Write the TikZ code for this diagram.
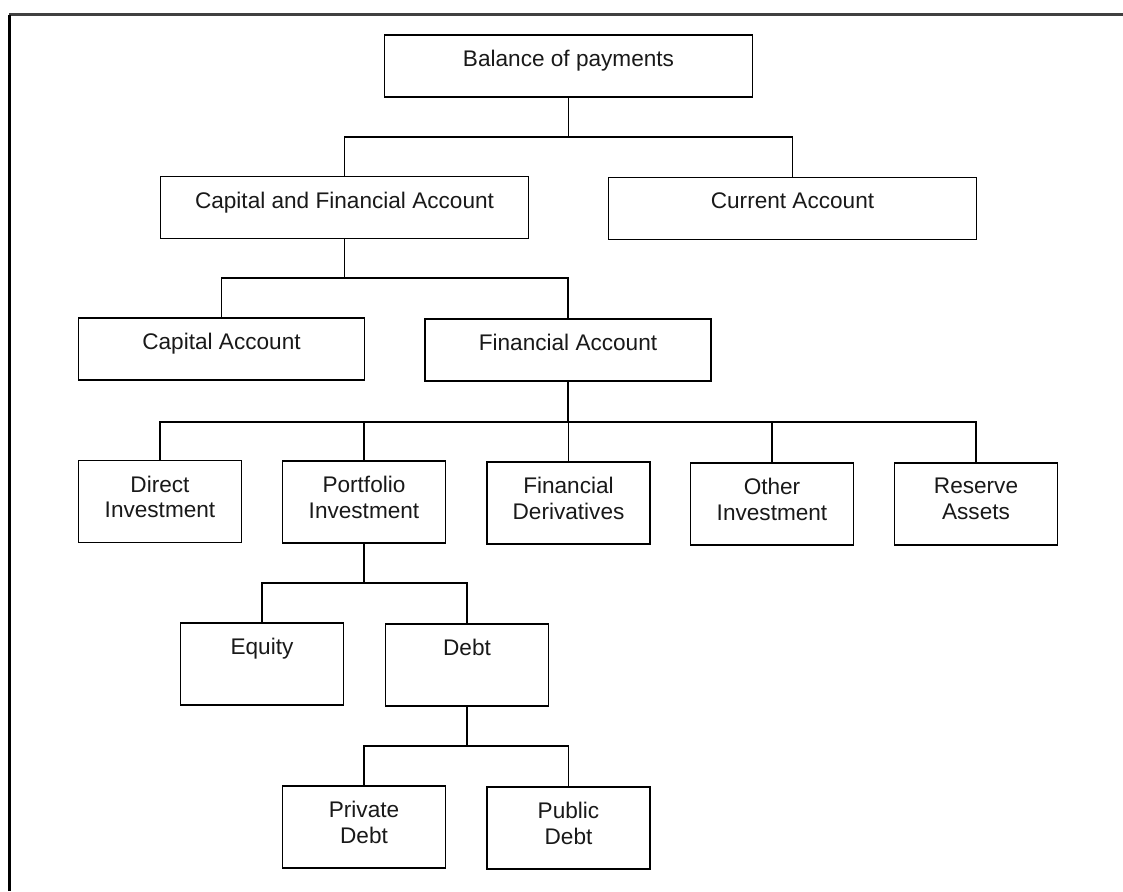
\documentclass[tikz,border=0pt]{standalone}
\usepackage{fontspec}
\setmainfont{Liberation Sans}
\begin{document}
\begin{tikzpicture}[x=1pt,y=-1pt,
  box/.style={draw=black, line width=1.7pt, fill=white, inner sep=0pt, outer sep=0pt},
  wide/.style={box, minimum width=368pt, minimum height=62pt},
  mid/.style={box, minimum width=286pt, minimum height=62pt},
  small/.style={box, minimum width=163pt, minimum height=82pt},
  lbl/.style={anchor=north, inner sep=0pt, align=center, text=black!90,
    font=\fontsize{22.6}{25.5}\selectfont},
  conn/.style={draw=black, line width=1.6pt},
  frame/.style={line width=3pt}]
\useasboundingbox (0,0) rectangle (1123,891);
% frame
\coordinate (fTL) at (9,15);
\coordinate (fTR) at (1123,15);
\coordinate (fBL) at (9,891);
\draw[frame, draw=black!75] (fTL) -- (fTR);
\draw[frame, draw=black] (fBL) -- (fTL);

% boxes
\node[wide] (bop) at (568.5,66) {};
\node[wide] (cfa) at (344.5,207.5) {};
\node[wide] (ca) at (792.5,208.5) {};
\node[mid] (capacc) at (221.5,349) {};
\node[mid] (finacc) at (568,350) {};
\node[small] (di) at (160,501.5) {};
\node[small] (pi) at (364,502) {};
\node[small] (fd) at (568.5,503) {};
\node[small] (oi) at (772,504) {};
\node[small] (ra) at (976,504) {};
\node[small] (eq) at (262,664) {};
\node[small] (debt) at (467,665) {};
\node[small] (priv) at (364,827) {};
\node[small] (pub) at (568.5,828) {};

% labels
\node[lbl] (tbop) at ([yshift=-15pt]bop.north) {Balance of payments};
\node[lbl] (tcfa) at ([yshift=-15pt]cfa.north) {Capital and Financial Account};
\node[lbl] (tca) at ([yshift=-15pt]ca.north) {Current Account};
\node[lbl] (tcapacc) at ([yshift=-15pt]capacc.north) {Capital Account};
\node[lbl] (tfinacc) at ([yshift=-15pt]finacc.north) {Financial Account};
\node[lbl] (tdi) at ([yshift=-15pt]di.north) {Direct\\Investment};
\node[lbl] (tpi) at ([yshift=-15pt]pi.north) {Portfolio\\Investment};
\node[lbl] (tfd) at ([yshift=-15pt]fd.north) {Financial\\Derivatives};
\node[lbl] (toi) at ([yshift=-15pt]oi.north) {Other\\Investment};
\node[lbl] (tra) at ([yshift=-15pt]ra.north) {Reserve\\Assets};
\node[lbl] (teq) at ([yshift=-15pt]eq.north) {Equity};
\node[lbl] (tdebt) at ([yshift=-15pt]debt.north) {Debt};
\node[lbl] (tpriv) at ([yshift=-15pt]priv.north) {Private\\Debt};
\node[lbl] (tpub) at ([yshift=-15pt]pub.north) {Public\\Debt};

% bus coordinates
\coordinate (bus1) at (568,137);
\coordinate (bus2) at (344,278);
\coordinate (bus3) at (568,422);
\coordinate (bus4) at (364,583);
\coordinate (bus5) at (467,746);

% connectors
\draw[conn] (bop.south) -- (bop.south |- bus1);
\draw[conn] (cfa.north) -- (cfa.north |- bus1) -- (ca.north |- bus1) -- (ca.north);

\draw[conn] (cfa.south) -- (cfa.south |- bus2);
\draw[conn] (capacc.north) -- (capacc.north |- bus2) -- (finacc.north |- bus2) -- (finacc.north);

\draw[conn] (finacc.south) -- (finacc.south |- bus3);
\draw[conn] (di.north) -- (di.north |- bus3) -- (ra.north |- bus3) -- (ra.north);
\draw[conn] (pi.north) -- (pi.north |- bus3);
\draw[conn] (fd.north) -- (fd.north |- bus3);
\draw[conn] (oi.north) -- (oi.north |- bus3);

\draw[conn] (pi.south) -- (pi.south |- bus4);
\draw[conn] (eq.north) -- (eq.north |- bus4) -- (debt.north |- bus4) -- (debt.north);

\draw[conn] (debt.south) -- (debt.south |- bus5);
\draw[conn] (priv.north) -- (priv.north |- bus5) -- (pub.north |- bus5) -- (pub.north);
\end{tikzpicture}
\end{document}
